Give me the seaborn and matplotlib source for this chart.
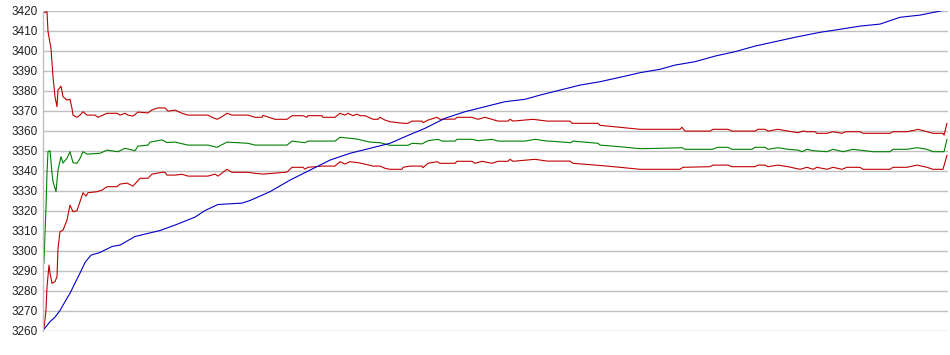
"""
Price series with moving average and upper/lower bands
"""

import pandas as pd
import seaborn as sns
import matplotlib.pyplot as plt

# --- Data (tick index, value) ---
price_t = [0, 7, 12, 17, 22, 27, 32, 37, 42, 48, 57, 69, 77, 92, 112, 117, 132, 152, 162,
           175, 199, 207, 227, 247, 267, 287, 307, 327, 347, 362, 382, 402, 422, 442, 462,
           482, 497, 517, 537, 557, 577, 597, 617, 632, 652, 672, 692, 712, 732, 752, 777,
           797, 817, 837, 857, 877, 897, 904]
price = [3260, 3264.4, 3266.7, 3270, 3274.4, 3278.6, 3283.7, 3288.7, 3294, 3297.7, 3299,
         3302, 3302.7, 3307, 3309.4, 3310, 3312.7, 3316.7, 3320, 3323, 3323.7, 3325,
         3329.4, 3335.2, 3340.2, 3345.2, 3348.6, 3351.1, 3353.6, 3356.9, 3361.1, 3366.1,
         3369.4, 3371.9, 3374.4, 3375.6, 3377.7, 3380.2, 3382.7, 3384.4, 3386.6, 3388.9,
         3390.6, 3392.7, 3394.4, 3397.2, 3399.4, 3402.2, 3404.4, 3406.6, 3409.1, 3410.6,
         3412.2, 3413.2, 3416.6, 3417.7, 3419.7, 3420.5]

mid_t = [1, 2, 3, 4, 5, 7, 9, 10, 13, 15, 18, 20, 24, 27, 30, 34, 37, 40, 44, 57, 64, 75,
         82, 92, 95, 105, 107, 119, 124, 132, 145, 165, 174, 184, 205, 212, 244, 249, 262,
         265, 292, 297, 307, 314, 327, 337, 347, 365, 369, 379, 385, 395, 399, 412, 414,
         429, 435, 449, 455, 482, 492, 504, 507, 530, 530.5, 555, 557, 577, 597, 617, 639,
         642, 669, 675, 685, 689, 709, 712, 722, 725, 735, 745, 755, 759, 764, 770, 784,
         790, 800, 810, 830, 847, 850, 864, 874, 884, 890, 901, 904]
mid = [3293.6, 3308.7, 3321.7, 3338.7, 3349.4, 3349.9, 3338.7, 3334.4, 3329.4, 3340.2,
       3346.9, 3343.7, 3346.2, 3349.4, 3343.9, 3343.6, 3346, 3349.4, 3348.2, 3348.6, 3350.2,
       3349.4, 3351.1, 3349.9, 3352.2, 3352.7, 3354.2, 3355.3, 3354, 3354.2, 3352.7, 3352.7,
       3351.6, 3354.2, 3353.6, 3352.7, 3352.7, 3354.7, 3353.9, 3354.7, 3354.7, 3356.6,
       3356.1, 3355.7, 3354.2, 3353.9, 3352.6, 3352.6, 3353.6, 3353.3, 3354.9, 3355.6,
       3354.7, 3354.7, 3355.6, 3355.6, 3354.9, 3355.6, 3354.7, 3354.7, 3355.6, 3354.7,
       3354.7, 3354.7, 3353.9, 3353.6, 3352.7, 3351.9, 3350.9, 3351.1, 3351.4, 3350.6,
       3350.6, 3351.6, 3351.6, 3350.6, 3350.6, 3351.6, 3351.6, 3350.6, 3351.4, 3350.6,
       3350.2, 3349.4, 3350.6, 3349.9, 3349.4, 3350.6, 3349.4, 3350.6, 3349.4, 3349.4,
       3350.6, 3350.6, 3351.4, 3350.6, 3349.4, 3349.4, 3355.6]
mid_t[64] = 527.5  # keep ticks increasing

upper_t = [1, 4, 5, 8, 9, 10, 12, 14, 15, 18, 20, 24, 27, 29, 30, 34, 37, 40, 44, 52, 55,
           64, 74, 77, 82, 85, 90, 95, 105, 109, 115, 122, 125, 132, 139, 145, 165, 169,
           174, 179, 184, 189, 205, 212, 219, 220, 232, 244, 249, 260, 264, 265, 279, 280,
           292, 297, 302, 305, 310, 314, 317, 322, 330, 335, 337, 342, 347, 360, 365, 369,
           379, 380, 385, 394, 397, 412, 414, 429, 435, 442, 449, 455, 465, 467, 470, 490,
           504, 527, 529, 555, 557, 577, 597, 617, 637, 639, 642, 667, 670, 685, 689, 712,
           715, 722, 725, 735, 745, 755, 760, 764, 772, 774, 784, 790, 799, 803, 817, 820,
           830, 847, 850, 864, 872, 875, 884, 890, 900, 901, 904]
upper = [3418.9, 3419.4, 3409.4, 3401, 3393.6, 3386.9, 3376.9, 3371.9, 3380.2, 3382.2,
         3376.9, 3375.2, 3375.6, 3371.1, 3367.7, 3366.6, 3367.7, 3369.4, 3367.7, 3367.7,
         3366.6, 3368.6, 3368.6, 3367.7, 3368.6, 3367.7, 3367.2, 3369.2, 3368.8, 3370.3,
         3371.3, 3371.3, 3369.7, 3370.2, 3368.6, 3367.7, 3367.7, 3366.6, 3365.6, 3366.9,
         3368.6, 3367.7, 3367.7, 3366.6, 3366.6, 3367.6, 3365.6, 3365.6, 3367.4, 3367.4,
         3366.6, 3367.4, 3367.4, 3366.6, 3366.6, 3368.6, 3367.7, 3368.6, 3367.4, 3368.2,
         3367.4, 3367.4, 3365.6, 3365.6, 3366.6, 3365.2, 3364.4, 3363.6, 3363.6, 3364.7,
         3364.7, 3363.9, 3365.2, 3366.6, 3365.6, 3365.7, 3366.6, 3366.6, 3365.6, 3366.6,
         3365.6, 3364.7, 3364.7, 3365.6, 3364.7, 3365.6, 3364.7, 3364.7, 3363.6, 3363.6,
         3362.6, 3361.6, 3360.6, 3360.6, 3360.6, 3361.6, 3359.7, 3359.7, 3360.6, 3360.6,
         3359.7, 3359.7, 3360.6, 3360.6, 3359.7, 3360.6, 3359.7, 3358.9, 3359.7, 3359.4,
         3359.4, 3358.6, 3358.6, 3359.4, 3358.6, 3359.4, 3359.4, 3358.6, 3358.6, 3358.6,
         3359.4, 3359.4, 3360.2, 3360.6, 3359.4, 3358.6, 3358.6, 3357.7, 3363.6]

lower_t = [1, 3, 4, 6, 7, 9, 12, 14, 15, 17, 20, 24, 27, 30, 34, 37, 40, 43, 45, 54, 59, 64,
           74, 77, 84, 90, 97, 105, 109, 119, 122, 124, 132, 139, 145, 165, 172, 175, 184,
           189, 205, 212, 220, 232, 244, 249, 260, 262, 265, 279, 292, 297, 302, 307, 314,
           322, 330, 337, 342, 347, 359, 360, 367, 379, 380, 385, 394, 397, 412, 414, 429,
           432, 439, 449, 455, 465, 467, 470, 492, 504, 527, 530, 555, 577, 597, 637, 640,
           667, 670, 685, 689, 712, 715, 722, 725, 735, 745, 757, 764, 770, 774, 784, 790,
           799, 804, 817, 820, 830, 847, 850, 864, 874, 884, 890, 900, 904]
lower = [3261, 3270.2, 3281.7, 3292.7, 3288.6, 3283.6, 3284.4, 3286.9, 3301.1, 3309.4,
         3310.2, 3315.2, 3322.7, 3319.4, 3319.9, 3324.4, 3328.9, 3327.2, 3328.9, 3329.4,
         3330.2, 3331.9, 3331.9, 3333.2, 3333.7, 3332.2, 3336.1, 3336.1, 3338.2, 3339.1,
         3339.1, 3337.7, 3337.7, 3338.1, 3337.2, 3337.2, 3338.2, 3337.2, 3340.6, 3339.1,
         3339.1, 3338.6, 3338.2, 3338.7, 3339.2, 3341.6, 3341.6, 3340.7, 3341.6, 3342.2,
         3342.2, 3344.4, 3343.2, 3344.4, 3344, 3343.2, 3342.2, 3342.2, 3341.1, 3340.6,
         3340.6, 3341.6, 3342.2, 3342.2, 3341.4, 3343.6, 3344.4, 3343.6, 3343.6, 3344.6,
         3344.6, 3343.6, 3344.6, 3343.6, 3344.6, 3344.6, 3345.6, 3344.6, 3345.6, 3344.7,
         3344.7, 3343.6, 3342.6, 3341.6, 3340.6, 3340.6, 3341.6, 3341.9, 3342.7, 3342.7,
         3341.9, 3341.9, 3342.7, 3342.7, 3341.9, 3342.7, 3341.9, 3340.6, 3341.6, 3340.6,
         3341.6, 3340.6, 3341.6, 3340.6, 3341.6, 3341.6, 3340.6, 3340.6, 3340.6, 3341.6,
         3341.6, 3342.7, 3341.6, 3340.6, 3340.6, 3347.7]

# --- Plot ---
sns.set_style("white")
plt.rcParams["font.family"] = ["Liberation Sans", "DejaVu Sans"]

fig = plt.figure(figsize=(9.5, 3.55), dpi=100)
ax = fig.add_axes((43 / 950, 1 - 330.5 / 355, 905 / 950, 320 / 355))

series = [
    (upper_t, upper, "#c00000"),
    (lower_t, lower, "#c00000"),
    (mid_t, mid, "#008000"),
    (price_t, price, "#0000c8"),
]
for t, v, c in series:
    sns.lineplot(x=t, y=v, ax=ax, color=c, linewidth=0.8, estimator=None, errorbar=None)

ax.set_xlim(0, 905)
ax.set_ylim(3260, 3420)
ax.set_yticks(range(3260, 3421, 10))
ax.set_xticks([])
ax.grid(axis="y", color="#c0c0c0", linewidth=1.0)
ax.set_axisbelow(True)
for side in ["top", "right", "bottom"]:
    ax.spines[side].set_visible(False)
ax.spines["left"].set_color("#c0c0c0")
ax.spines["left"].set_linewidth(1.0)
ax.tick_params(axis="y", length=0, pad=4, labelsize=8.5, labelcolor="#202020")
ax.set_xlabel("")
ax.set_ylabel("")

plt.savefig("out.png", dpi=100)
